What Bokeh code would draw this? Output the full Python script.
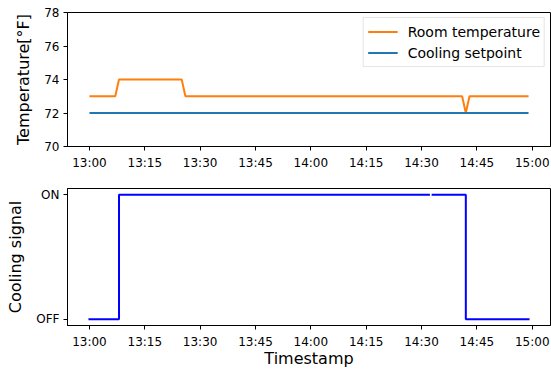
import numpy as np
import pandas as pd
from bokeh.plotting import figure
from bokeh.layouts import column
from bokeh.models import Range1d, FixedTicker, DatetimeTickFormatter, Legend, LegendItem
from bokeh.embed import file_html
from bokeh.resources import INLINE

DAY = "2020-01-01 "
start_time = "13:00"
n_minutes = 120
timestamps = pd.date_range(DAY + start_time, periods=n_minutes, freq="1min")

# Room temperature (°F), one reading per minute 13:00 .. 14:59
room_temp = [
    73, 73, 73, 73, 73, 73, 73, 73, 74, 74, 74, 74, 74, 74, 74, 74, 74, 74, 74, 74,
    74, 74, 74, 74, 74, 74, 73, 73, 73, 73, 73, 73, 73, 73, 73, 73, 73, 73, 73, 73,
    73, 73, 73, 73, 73, 73, 73, 73, 73, 73, 73, 73, 73, 73, 73, 73, 73, 73, 73, 73,
    73, 73, 73, 73, 73, 73, 73, 73, 73, 73, 73, 73, 73, 73, 73, 73, 73, 73, 73, 73,
    73, 73, 73, 73, 73, 73, 73, 73, 73, 73, 73, 73, 73, 73, 73, 73, 73, 73, 73, 73,
    73, 73, 72, 73, 73, 73, 73, 73, 73, 73, 73, 73, 73, 73, 73, 73, 73, 73, 73, 73,
]
# Cooling setpoint (°F)
cooling_setpoint = [
    72, 72, 72, 72, 72, 72, 72, 72, 72, 72, 72, 72, 72, 72, 72, 72, 72, 72, 72, 72,
    72, 72, 72, 72, 72, 72, 72, 72, 72, 72, 72, 72, 72, 72, 72, 72, 72, 72, 72, 72,
    72, 72, 72, 72, 72, 72, 72, 72, 72, 72, 72, 72, 72, 72, 72, 72, 72, 72, 72, 72,
    72, 72, 72, 72, 72, 72, 72, 72, 72, 72, 72, 72, 72, 72, 72, 72, 72, 72, 72, 72,
    72, 72, 72, 72, 72, 72, 72, 72, 72, 72, 72, 72, 72, 72, 72, 72, 72, 72, 72, 72,
    72, 72, 72, 72, 72, 72, 72, 72, 72, 72, 72, 72, 72, 72, 72, 72, 72, 72, 72, 72,
]
N = np.nan
# Cooling signal: 0 = OFF, 1 = ON (one missing reading)
cooling_signal = [
    0, 0, 0, 0, 0, 0, 0, 0, 1, 1, 1, 1, 1, 1, 1, 1, 1, 1, 1, 1,
    1, 1, 1, 1, 1, 1, 1, 1, 1, 1, 1, 1, 1, 1, 1, 1, 1, 1, 1, 1,
    1, 1, 1, 1, 1, 1, 1, 1, 1, 1, 1, 1, 1, 1, 1, 1, 1, 1, 1, 1,
    1, 1, 1, 1, 1, 1, 1, 1, 1, 1, 1, 1, 1, 1, 1, 1, 1, 1, 1, 1,
    1, 1, 1, 1, 1, 1, 1, 1, 1, 1, 1, 1, N, 1, 1, 1, 1, 1, 1, 1,
    1, 1, 0, 0, 0, 0, 0, 0, 0, 0, 0, 0, 0, 0, 0, 0, 0, 0, 0, 0,
]

x_tick_labels = ["13:00", "13:15", "13:30", "13:45", "14:00", "14:15", "14:30", "14:45", "15:00"]
temp_ticks = [70, 72, 74, 76, 78]
signal_ticks = [0, 1]
signal_labels = ["OFF", "ON"]

FONT = "DejaVu Sans"
TXT = "#000000"

# x range with 5% margins like matplotlib
span = timestamps[-1] - timestamps[0]
x0 = timestamps[0] - span * 0.05
x1 = timestamps[-1] + span * 0.05
x_range = Range1d(start=x0, end=x1)

tick_ms = [pd.Timestamp(DAY + t).value // 10**6 for t in x_tick_labels]
fmt = DatetimeTickFormatter(minutes="%H:%M", hourmin="%H:%M", hours="%H:%M", days="%H:%M")


def style(p):
    p.toolbar_location = None
    p.xgrid.visible = False
    p.ygrid.visible = False
    p.outline_line_color = "black"
    p.outline_line_alpha = 1
    p.outline_line_width = 1
    p.background_fill_color = "white"
    p.border_fill_color = "white"
    for ax in (p.xaxis[0], p.yaxis[0]):
        ax.axis_line_color = "black"
        ax.major_tick_line_color = "black"
        ax.major_tick_in = 0
        ax.major_tick_out = 4
        ax.minor_tick_line_color = None
        ax.major_label_text_font = FONT
        ax.major_label_text_font_size = "12px"
        ax.major_label_text_color = TXT
        ax.major_label_standoff = 4
        ax.axis_label_text_font = FONT
        ax.axis_label_text_font_size = "16px"
        ax.axis_label_text_font_style = "normal"
        ax.axis_label_text_color = TXT
    p.xaxis[0].ticker = FixedTicker(ticks=tick_ms)
    p.xaxis[0].formatter = fmt
    p.xaxis[0].major_label_standoff = 5


# ---- top: temperature ----
p1 = figure(width=551, height=172, x_axis_type="datetime", x_range=x_range,
            y_range=Range1d(70, 78), output_backend="svg", toolbar_location=None,
            min_border_left=67, min_border_right=1, min_border_top=12, min_border_bottom=24)
style(p1)
p1.yaxis[0].ticker = FixedTicker(ticks=temp_ticks)
p1.yaxis[0].axis_label = "Temperature[°F]"
p1.yaxis[0].axis_label_standoff = 8

r_room = p1.line(timestamps, room_temp, line_color="#ff7f0e", line_width=2)
r_set = p1.line(timestamps, cooling_setpoint, line_color="#1f77b4", line_width=2)

legend = Legend(items=[LegendItem(label="Room temperature", renderers=[r_room]),
                       LegendItem(label="Cooling setpoint", renderers=[r_set])],
                location="top_right")
legend.label_text_font = FONT
legend.label_text_font_size = "14px"
legend.label_text_color = TXT
legend.border_line_color = "#cccccc"
legend.border_line_width = 1
legend.background_fill_alpha = 0.8
legend.padding = 4
legend.spacing = 2
legend.margin = 5
legend.glyph_width = 30
legend.glyph_height = 19
legend.label_standoff = 10
legend.label_height = 19
p1.add_layout(legend)

# ---- bottom: cooling signal (steps-post) ----
p2 = figure(width=551, height=198, x_axis_type="datetime", x_range=x_range,
            y_range=Range1d(-0.05, 1.05), output_backend="svg", toolbar_location=None,
            min_border_left=67, min_border_right=1, min_border_top=16, min_border_bottom=40)
style(p2)
p2.yaxis[0].ticker = FixedTicker(ticks=signal_ticks)
p2.yaxis[0].major_label_overrides = {t: l for t, l in zip(signal_ticks, signal_labels)}
p2.yaxis[0].axis_label = "Cooling signal"
p2.yaxis[0].axis_label_standoff = 8
p2.xaxis[0].axis_label = "Timestamp"
p2.xaxis[0].axis_label_standoff = -3
p2.xaxis[0].axis_label_text_line_height = 1.0
p2.xaxis[0].major_label_text_line_height = 1.0

# expand into a post-step path (horizontal then vertical), NaN breaks the line
ts = np.array(timestamps.values)
sig = np.array(cooling_signal, dtype=float)
sx, sy = [], []
for i in range(len(ts)):
    if i > 0:
        sx.append(ts[i]); sy.append(sig[i - 1])
    sx.append(ts[i]); sy.append(sig[i])
sx = np.array(sx)
sy = np.array(sy)
p2.line(sx, sy, line_color="#0000ff", line_width=2, line_cap="square")

layout = column(p1, p2, spacing=0)
open("out.html", "w").write(file_html(layout, INLINE))
